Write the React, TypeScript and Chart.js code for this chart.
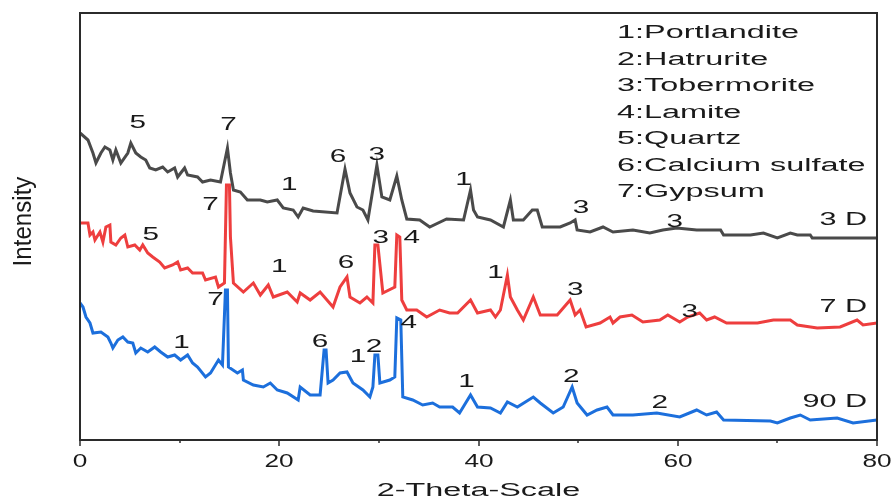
import React, { useEffect, useRef } from "react";
import { Chart, registerables } from "chart.js";

Chart.register(...registerables);

// 2-theta (deg) and intensity (a.u.)
const theta3D = [0, 0.8, 1.3, 1.6, 2.1, 2.5, 3.0, 3.3, 3.6, 4.1, 4.8, 5.1, 5.6, 6.1, 6.6, 7.0, 7.6, 8.3, 8.8, 9.5, 9.8, 10.5, 10.8, 11.8, 12.3, 13.1, 14.1, 14.8, 15.1, 15.4, 16.1, 16.8, 18.1, 18.8, 19.8, 20.4, 21.4, 21.9, 22.4, 23.4, 25.8, 26.6, 27.1, 27.8, 28.4, 28.9, 29.8, 30.3, 31.1, 31.8, 32.3, 32.8, 34.1, 35.1, 36.8, 38.5, 39.2, 39.5, 39.9, 41.2, 42.5, 43.2, 43.5, 44.5, 45.4, 45.9, 46.4, 48.2, 49.2, 49.7, 49.9, 51.2, 52.5, 53.5, 55.5, 57.2, 58.5, 59.9, 61.9, 64.3, 64.6, 66.3, 67.3, 68.6, 70.0, 71.3, 72.0, 73.3, 73.5, 80];
const int3D = [307, 300, 287, 277, 287, 293, 290, 280, 290, 277, 287, 297, 287, 283, 280, 272, 270, 273, 268, 272, 263, 272, 265, 263, 258, 260, 258, 292, 267, 250, 248, 240, 240, 238, 240, 232, 230, 223, 232, 229, 227, 271, 247, 233, 230, 220, 275, 243, 240, 264, 240, 221, 220, 213, 221, 220, 250, 230, 223, 220, 213, 240, 220, 220, 230, 230, 213, 213, 217, 220, 210, 208, 213, 208, 210, 207, 210, 212, 210, 210, 205, 205, 205, 207, 202, 207, 205, 205, 202, 202];

const theta7D = [0, 0.8, 1.0, 1.3, 1.5, 2.0, 2.3, 2.6, 3.0, 3.1, 3.6, 4.1, 4.5, 4.8, 5.5, 6.0, 6.3, 6.8, 7.3, 8.0, 8.5, 9.3, 9.8, 10.1, 10.8, 11.3, 12.3, 12.6, 13.6, 13.9, 14.5, 14.7, 15.0, 15.1, 15.4, 16.4, 17.4, 18.1, 18.9, 19.4, 20.8, 21.8, 22.1, 23.1, 24.1, 25.4, 26.1, 26.8, 27.1, 28.1, 28.8, 29.4, 29.6, 29.9, 30.4, 31.6, 31.8, 32.1, 32.3, 32.8, 33.8, 34.8, 36.1, 37.1, 37.9, 39.2, 39.9, 41.2, 41.7, 42.2, 42.9, 43.2, 43.9, 44.5, 45.5, 46.2, 47.9, 49.2, 49.7, 50.2, 50.8, 52.2, 53.2, 53.5, 54.2, 55.4, 56.5, 58.2, 59.0, 60.2, 61.0, 62.2, 62.9, 63.7, 64.9, 68.0, 69.6, 71.3, 72.0, 74.0, 76.3, 78.0, 78.6, 80];
const int7D = [217, 217, 205, 208, 200, 208, 198, 213, 215, 198, 195, 202, 205, 193, 195, 190, 195, 187, 183, 178, 172, 175, 178, 170, 172, 167, 167, 160, 163, 153, 157, 255, 255, 203, 157, 148, 157, 145, 155, 143, 148, 138, 147, 140, 148, 133, 153, 163, 143, 137, 143, 137, 195, 195, 147, 153, 205, 203, 140, 130, 130, 123, 130, 127, 127, 140, 127, 130, 123, 130, 165, 143, 130, 120, 143, 125, 125, 140, 125, 130, 113, 117, 123, 117, 123, 125, 118, 120, 125, 118, 123, 127, 120, 123, 117, 117, 120, 120, 115, 112, 113, 120, 115, 117];

const theta90D = [0, 0.3, 0.6, 1.0, 1.3, 2.1, 2.8, 3.1, 3.3, 3.8, 4.3, 4.8, 5.3, 5.6, 6.1, 6.8, 7.5, 8.1, 8.8, 9.5, 10.1, 10.8, 11.3, 11.8, 12.6, 13.1, 13.9, 14.3, 14.6, 14.8, 14.9, 15.8, 16.3, 16.4, 17.4, 18.4, 19.1, 19.8, 20.8, 21.9, 22.1, 23.1, 24.1, 24.5, 24.7, 24.9, 25.4, 26.1, 26.8, 27.4, 28.4, 29.1, 29.4, 29.6, 29.9, 30.1, 31.1, 31.6, 31.8, 32.2, 32.4, 33.4, 34.4, 35.4, 36.1, 37.4, 38.1, 39.2, 39.9, 41.2, 42.2, 42.9, 43.9, 45.5, 46.2, 47.5, 48.5, 49.4, 49.9, 50.9, 51.9, 52.9, 53.5, 55.5, 57.9, 60.2, 61.9, 62.9, 63.9, 64.6, 69.3, 70.0, 71.3, 72.3, 73.3, 76.0, 77.6, 80];
const int90D = [137, 133, 123, 117, 107, 108, 103, 97, 92, 100, 103, 98, 97, 87, 92, 88, 93, 88, 83, 85, 80, 85, 77, 73, 63, 67, 80, 75, 150, 150, 73, 67, 70, 60, 55, 53, 57, 50, 47, 40, 53, 45, 45, 90, 90, 57, 60, 67, 68, 57, 50, 43, 53, 85, 85, 57, 60, 63, 122, 120, 43, 40, 35, 37, 33, 33, 27, 45, 33, 32, 27, 38, 33, 43, 37, 27, 33, 53, 37, 25, 30, 33, 25, 25, 27, 23, 30, 25, 28, 20, 19, 17, 22, 25, 20, 22, 17, 20];

const xTicks = [0, 20, 40, 60, 80];
const xMinorTicks = [10, 30, 50, 70];

const phaseLegend = [
  "1:Portlandite",
  "2:Hatrurite",
  "3:Tobermorite",
  "4:Lamite",
  "5:Quartz",
  "6:Calcium sulfate",
  "7:Gypsum",
];

// peak labels: [text, 2-theta, intensity]
const peakLabels: [string, number, number][] = [
  ["5", 5.8, 312], ["7", 14.9, 310], ["1", 21.0, 250], ["6", 25.9, 278], ["3", 29.8, 280],
  ["1", 38.5, 255], ["3", 50.3, 227], ["3", 59.7, 213],
  ["5", 7.1, 200], ["7", 13.1, 230], ["1", 20.0, 168], ["6", 26.7, 172], ["3", 30.2, 197],
  ["4", 33.3, 197], ["1", 41.7, 162], ["3", 49.7, 145], ["3", 61.2, 123],
  ["1", 10.2, 92], ["7", 13.6, 135], ["6", 24.1, 93], ["1", 27.9, 78], ["2", 29.5, 88],
  ["4", 33.0, 112], ["1", 38.8, 53], ["2", 49.3, 58], ["2", 58.2, 32],
];

// sample labels at right: [text, 2-theta (right edge), intensity]
const sampleLabels: [string, number, number][] = [
  ["3 D", 79.0, 215],
  ["7 D", 79.0, 128],
  ["90 D", 79.0, 33],
];

const FONT = '"Liberation Sans", Arial, sans-serif';

function drawText(ctx: CanvasRenderingContext2D, text: string, x: number, y: number, size: number, sx: number, align: "left" | "center" | "right", color = "#1a1a1a") {
  ctx.save();
  ctx.font = `${size}px ${FONT}`;
  ctx.fillStyle = color;
  ctx.textAlign = "left";
  ctx.textBaseline = "alphabetic";
  const w = ctx.measureText(text).width * sx;
  const x0 = align === "left" ? x : align === "center" ? x - w / 2 : x - w;
  ctx.translate(x0, y);
  ctx.scale(sx, 1);
  ctx.fillText(text, 0, 0);
  ctx.restore();
}

const decorPlugin = {
  id: "decor",
  afterDraw(chart: any) {
    const { ctx, chartArea, scales } = chart;
    const xs = scales.x;
    const ys = scales.y;
    const { left, right, top, bottom } = chartArea;
    ctx.save();
    // frame
    ctx.strokeStyle = "#2b2b2b";
    ctx.lineWidth = 2;
    ctx.strokeRect(left, top, right - left, bottom - top);
    // ticks
    ctx.lineWidth = 1.5;
    xTicks.forEach((v) => {
      const px = Math.round(xs.getPixelForValue(v));
      ctx.beginPath();
      ctx.moveTo(px, bottom);
      ctx.lineTo(px, bottom + 6);
      ctx.stroke();
      drawText(ctx, String(v), px, bottom + 27, 19, 1.38, "center");
    });
    xMinorTicks.forEach((v) => {
      const px = Math.round(xs.getPixelForValue(v));
      ctx.beginPath();
      ctx.moveTo(px, bottom);
      ctx.lineTo(px, bottom + 3);
      ctx.stroke();
    });
    // axis titles
    drawText(ctx, "2-Theta-Scale", (left + right) / 2, bottom + 56, 18, 1.8, "center");
    ctx.save();
    ctx.translate(31, (top + bottom) / 2 - 5);
    ctx.rotate(-Math.PI / 2);
    ctx.scale(1.34, 1.4);
    ctx.font = `18px ${FONT}`;
    ctx.fillStyle = "#1a1a1a";
    ctx.textAlign = "center";
    ctx.textBaseline = "alphabetic";
    ctx.fillText("Intensity", 0, 0);
    ctx.restore();
    // phase legend
    phaseLegend.forEach((t, i) => {
      drawText(ctx, t, 617, top + 25 + i * 26.5, 18, 1.8, "left");
    });
    // peak labels
    peakLabels.forEach(([t, x, y]) => {
      drawText(ctx, t, xs.getPixelForValue(x), ys.getPixelForValue(y), 18, 1.65, "center");
    });
    sampleLabels.forEach(([t, x, y]) => {
      drawText(ctx, t, xs.getPixelForValue(x), ys.getPixelForValue(y), 18, 1.7, "right");
    });
    ctx.restore();
  },
};

function toXY(xs: number[], ys: number[]) {
  return xs.map((x, i) => ({ x, y: ys[i] }));
}

export default function App() {
  const ref = useRef<HTMLCanvasElement | null>(null);
  useEffect(() => {
    if (!ref.current) return;
    const chart = new Chart(ref.current, {
      type: "line",
      data: {
        datasets: [
          { label: "7 D", data: toXY(theta7D, int7D), borderColor: "#ee3e3e", borderWidth: 3, pointRadius: 0, tension: 0 },
          { label: "90 D", data: toXY(theta90D, int90D), borderColor: "#1c6fdc", borderWidth: 3, pointRadius: 0, tension: 0 },
          { label: "3 D", data: toXY(theta3D, int3D), borderColor: "#4a4a4a", borderWidth: 3, pointRadius: 0, tension: 0 },
        ],
      },
      options: {
        responsive: false,
        animation: false,
        layout: { padding: { left: 80, right: 15, top: 13, bottom: 62 } },
        plugins: { legend: { display: false }, tooltip: { enabled: false } },
        scales: {
          x: { type: "linear", min: 0, max: 80, display: false },
          y: { type: "linear", min: 0, max: 427, display: false },
        },
      },
      plugins: [decorPlugin],
    });
    return () => chart.destroy();
  }, []);
  return (
    <div style={{ position: "fixed", left: 0, top: 0, width: 892, height: 502, background: "#fff" }}>
      <canvas ref={ref} width={892} height={502} />
    </div>
  );
}
